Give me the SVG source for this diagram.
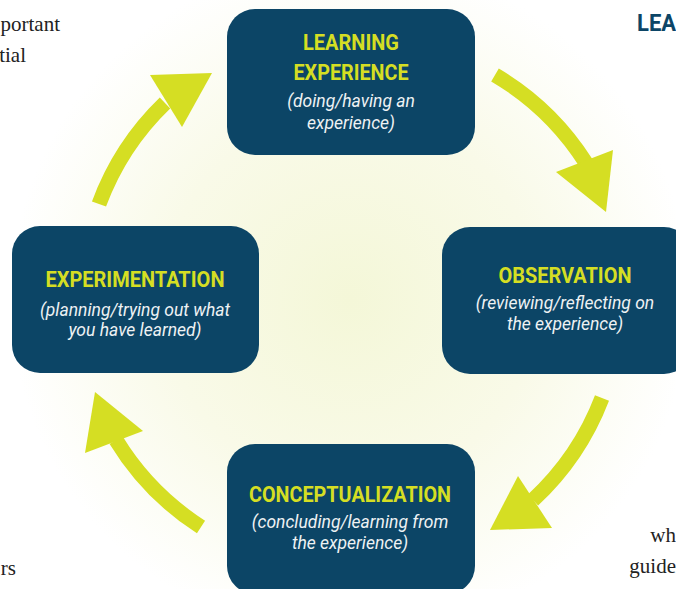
<svg xmlns="http://www.w3.org/2000/svg" width="676" height="589" viewBox="0 0 676 589">
<defs>
<radialGradient id="bg" gradientUnits="userSpaceOnUse" cx="350" cy="300" r="340">
<stop offset="0" stop-color="#F4F7D8"/>
<stop offset="0.55" stop-color="#F9FAE8"/>
<stop offset="1" stop-color="#FFFFFF"/>
</radialGradient>
<style>
.box{fill:#0C4566;}
.title{font-family:Roboto,"Liberation Sans",sans-serif;font-weight:700;font-size:22px;fill:#D5DE23;text-anchor:middle;}
.sub{font-family:Roboto,"Liberation Sans",sans-serif;font-style:italic;font-size:17.5px;fill:#EEF2F4;text-anchor:middle;}
.shaft{fill:none;stroke:#D5DE23;stroke-width:15;stroke-linecap:butt;}
.head{fill:#D5DE23;}
.bgtext{font-family:"Liberation Serif",serif;font-size:21px;fill:#222222;}
</style>
</defs>
<rect x="0" y="0" width="676" height="589" fill="url(#bg)"/>
<text class="bgtext" x="60" y="31" text-anchor="end">portant</text>
<text class="bgtext" x="26" y="62" text-anchor="end">tial</text>
<text class="bgtext" x="16" y="575" text-anchor="end">rs</text>
<text class="bgtext" x="676" y="542" text-anchor="end">wh</text>
<text class="bgtext" x="676" y="573" text-anchor="end">guide</text>
<text x="637" y="31" font-family="Roboto,'Liberation Sans',sans-serif" font-weight="700" font-size="23" fill="#0C4566" textLength="39" lengthAdjust="spacingAndGlyphs">LEA</text>
<g id="connectors">
<g id="arrow1"><path class="shaft" d="M 495 75 A 271 271 0 0 1 586 163"/><polygon class="head" points="556,172 613,150 606,212"/></g>
<g id="arrow2"><path class="shaft" d="M 602 398 A 271 271 0 0 1 533 500"/><polygon class="head" points="518,476 552,528 490,530"/></g>
<g id="arrow3"><path class="shaft" d="M 201 527 A 271 271 0 0 1 116 440"/><polygon class="head" points="143,431 85,453 95,392"/></g>
<g id="arrow4"><path class="shaft" d="M 99 204 A 271 271 0 0 1 165 103"/><polygon class="head" points="150,75 212,73 182,127"/></g>
</g>
<g id="learning-experience">
<rect class="box" x="227" y="9" width="248" height="146" rx="28"/>
<text class="title" x="351" y="50" textLength="96" lengthAdjust="spacingAndGlyphs">LEARNING</text>
<text class="title" x="351" y="80" textLength="115" lengthAdjust="spacingAndGlyphs">EXPERIENCE</text>
<text class="sub" x="351" y="107">(doing/having an</text>
<text class="sub" x="351" y="129">experience)</text>
</g>
<g id="experimentation">
<rect class="box" x="12" y="226" width="247" height="147" rx="28"/>
<text class="title" x="135" y="287" textLength="179" lengthAdjust="spacingAndGlyphs">EXPERIMENTATION</text>
<text class="sub" x="135" y="316">(planning/trying out what</text>
<text class="sub" x="135" y="336">you have learned)</text>
</g>
<g id="observation">
<rect class="box" x="442" y="227" width="250" height="147" rx="28"/>
<text class="title" x="565" y="283" textLength="133" lengthAdjust="spacingAndGlyphs">OBSERVATION</text>
<text class="sub" x="565" y="309">(reviewing/reflecting on</text>
<text class="sub" x="565" y="330">the experience)</text>
</g>
<g id="conceptualization">
<rect class="box" x="227" y="444" width="248" height="150" rx="28"/>
<text class="title" x="350" y="502" textLength="202" lengthAdjust="spacingAndGlyphs">CONCEPTUALIZATION</text>
<text class="sub" x="350" y="528">(concluding/learning from</text>
<text class="sub" x="350" y="549">the experience)</text>
</g>
</svg>
